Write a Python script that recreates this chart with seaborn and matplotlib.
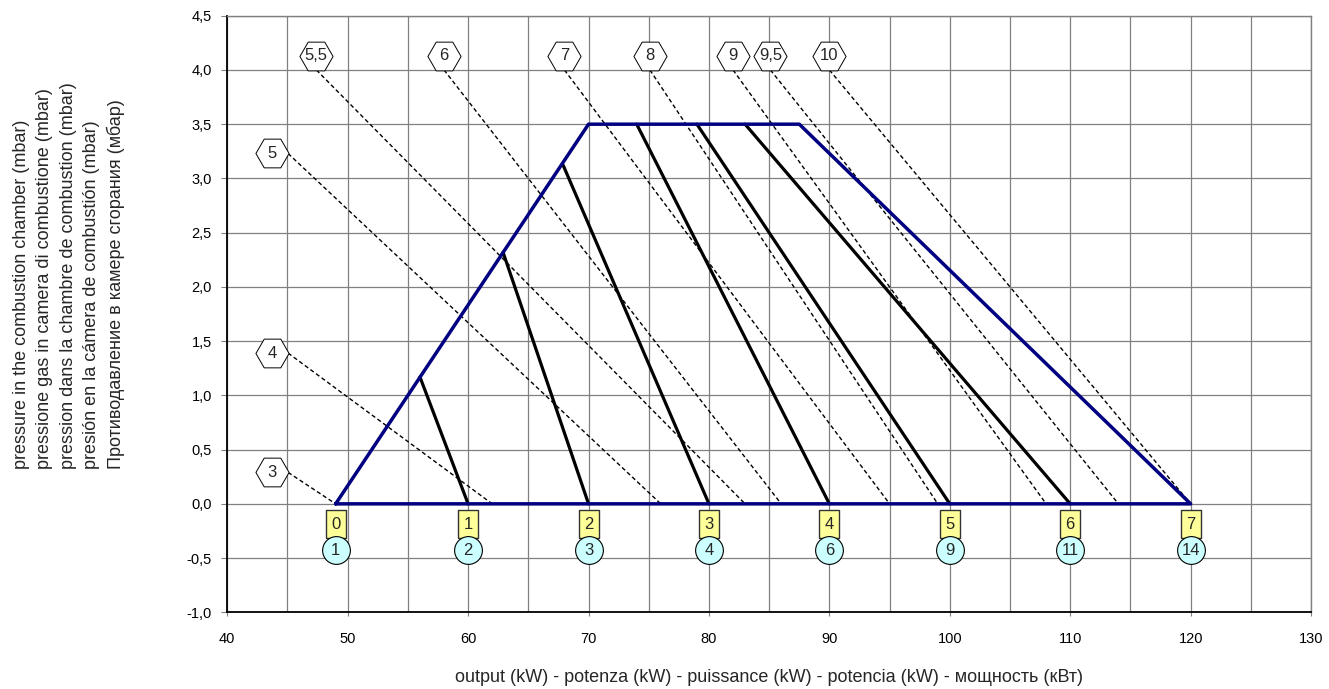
import numpy as np
import pandas as pd
import seaborn as sns
import matplotlib.pyplot as plt
from matplotlib.ticker import FuncFormatter, MultipleLocator

# working envelope of the burner (kW, mbar)
env_x = [49, 70, 87.5, 120, 49]
env_y = [0, 3.5, 3.5, 0, 0]

# solid black lines: start on the envelope, end on the x axis
solid_x0 = [56.0, 62.9, 67.9, 74.0, 79.0, 83.0]
solid_y0 = [1.17, 2.32, 3.12, 3.5, 3.5, 3.5]
solid_x1 = [60, 70, 80, 90, 100, 110]

# dashed lines with hexagon labels
hex_labels = ['3', '4', '5', '5,5', '6', '7', '8', '9', '9,5', '10']
hex_x = [43.7, 43.7, 43.7, 47.4, 58.0, 68.0, 75.1, 82.0, 85.1, 90.0]
hex_y = [0.29, 1.39, 3.23, 4.13, 4.13, 4.13, 4.13, 4.13, 4.13, 4.13]
dash_x0 = [45.05, 45.05, 45.05, 47.4, 58.0, 68.0, 75.1, 82.0, 85.1, 90.0]
dash_y0 = [0.29, 1.39, 3.23, 4.0, 4.0, 4.0, 4.0, 4.0, 4.0, 4.0]
dash_x1 = [49, 62, 76, 83, 86, 95, 99, 108, 114, 120]

# markers under the x axis
step_x = [49, 60, 70, 80, 90, 100, 110, 120]
box_labels = ['0', '1', '2', '3', '4', '5', '6', '7']
circle_labels = ['1', '2', '3', '4', '6', '9', '11', '14']
box_y = -0.19
circle_y = -0.43

ylabel = ("pressure in the combustion chamber (mbar)\n"
          "pressione gas in camera di combustione (mbar)\n"
          "pression dans la chambre de combustion (mbar)\n"
          "presión en la cámera de combustión (mbar)\n"
          "Противодавление в камере сгорания (мбар)")
xlabel = "output (kW) - potenza (kW) - puissance (kW) - potencia (kW) - мощность (кВт)"

sns.set_style('white')
plt.rcParams['font.family'] = ['Liberation Sans', 'DejaVu Sans']

fig = plt.figure(figsize=(13.29, 6.89), dpi=100)
ax = fig.add_axes([0.171, 0.1113, 0.8155, 0.8659])

# long-form tables for seaborn
solid_df = pd.DataFrame({
    'x': solid_x0 + solid_x1,
    'y': solid_y0 + [0] * len(solid_x1),
    'seg': list(range(len(solid_x0))) * 2,
})
dash_df = pd.DataFrame({
    'x': dash_x0 + dash_x1,
    'y': dash_y0 + [0] * len(dash_x1),
    'seg': list(range(len(dash_x0))) * 2,
})
env_df = pd.DataFrame({'x': env_x, 'y': env_y})

sns.lineplot(data=dash_df, x='x', y='y', units='seg', estimator=None,
             sort=False, color='black', lw=1.0, linestyle=(0, (3, 2)),
             ax=ax, zorder=3)
sns.lineplot(data=solid_df, x='x', y='y', units='seg', estimator=None,
             sort=False, color='black', lw=2.3, ax=ax, zorder=4)
sns.lineplot(data=env_df, x='x', y='y', estimator=None, sort=False,
             color='#000080', lw=2.5, ax=ax, zorder=5)

# hexagon labels
hex_df = pd.DataFrame({'x': hex_x, 'y': hex_y})
sns.scatterplot(data=hex_df, x='x', y='y', marker='H', s=570,
                color='white', edgecolor='black', linewidth=0.7,
                ax=ax, zorder=6, clip_on=False)
for lab, x, y in zip(hex_labels, hex_x, hex_y):
    ax.text(x, y, lab, ha='center', va='center', fontsize=12, zorder=7)

# yellow boxes (tall rectangle marker)
rect = [(-0.35, -0.5), (0.35, -0.5), (0.35, 0.5), (-0.35, 0.5), (-0.35, -0.5)]
box_df = pd.DataFrame({'x': step_x, 'y': [box_y] * len(step_x)})
sns.scatterplot(data=box_df, x='x', y='y', marker=rect, s=390,
                color='#ffff99', edgecolor='#333333', linewidth=1.0,
                ax=ax, zorder=6)
for lab, x in zip(box_labels, step_x):
    ax.text(x, box_y, lab, ha='center', va='center', fontsize=12, zorder=7)

# circles
circ_df = pd.DataFrame({'x': step_x, 'y': [circle_y] * len(step_x)})
sns.scatterplot(data=circ_df, x='x', y='y', marker='o', s=400,
                color='#ccffff', edgecolor='black', linewidth=0.8,
                ax=ax, zorder=6)
for lab, x in zip(circle_labels, step_x):
    ax.text(x, circle_y, lab, ha='center', va='center', fontsize=12, zorder=7)

ax.set_xlim(40, 130)
ax.set_ylim(-1.0, 4.5)
ax.xaxis.set_major_locator(MultipleLocator(10))
ax.xaxis.set_minor_locator(MultipleLocator(5))
ax.yaxis.set_major_locator(MultipleLocator(0.5))
ax.yaxis.set_major_formatter(FuncFormatter(lambda v, p: f"{v:.1f}".replace('.', ',')))
ax.xaxis.set_major_formatter(FuncFormatter(lambda v, p: f"{v:.0f}"))
ax.grid(which='both', color='#808080', lw=0.9)
ax.set_axisbelow(True)
ax.tick_params(axis='both', which='major', labelsize=10.5, colors='#808080',
               labelcolor='black', direction='out')
ax.tick_params(axis='y', length=4, pad=7, left=True)
ax.tick_params(axis='x', length=3, pad=11, bottom=True)
ax.tick_params(which='minor', length=0)
ax.set_xlabel('')
ax.set_ylabel('')

for side in ['left', 'bottom']:
    ax.spines[side].set_color('black')
    ax.spines[side].set_linewidth(1.3)
for side in ['top', 'right']:
    ax.spines[side].set_color('#808080')
    ax.spines[side].set_linewidth(1.0)

fig.text(69 / 1329, 1 - 276 / 689, ylabel, rotation=90, ha='center',
         va='center', multialignment='left', fontsize=13, linespacing=1.47)
fig.text(769 / 1329, 1 - 678 / 689, xlabel, ha='center', va='center',
         fontsize=13)

fig.savefig('out.png', dpi=100)
